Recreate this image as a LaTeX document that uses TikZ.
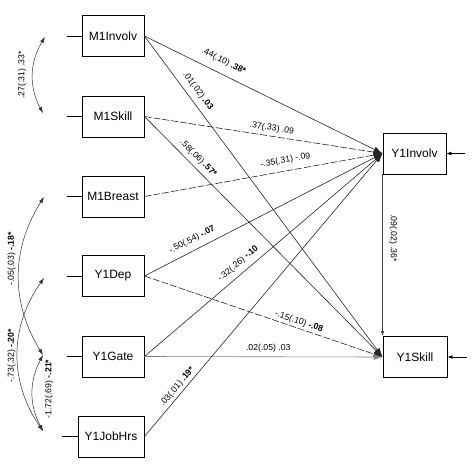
\documentclass[tikz,border=0pt]{standalone}
\usepackage{fontspec}
\setmainfont{Liberation Sans}
\usetikzlibrary{positioning}
\usetikzlibrary{arrows.meta}

\begin{document}
\begin{tikzpicture}[x=1pt,y=-1pt,
    var/.style={draw, line width=0.9pt, minimum width=62pt, minimum height=41pt, inner sep=2pt, font=\fontsize{12}{14}\selectfont},
    effect/.style={-{Latex[length=9pt,width=6pt]}, line width=0.6pt, draw=black!85},
    dashy/.style={dash pattern=on 7pt off 2pt},
    cov/.style={{Latex[length=6pt,width=4pt]}-{Latex[length=6pt,width=4pt]}, line width=0.5pt, draw=black!80},
    err/.style={-{Latex[length=5pt,width=4pt]}, line width=0.7pt},
    lbl/.style={inner sep=1pt, font=\fontsize{8.7}{10}\selectfont}]
    % path model
    \useasboundingbox (0,0) rectangle (474,474);
    \node[var] (m1involv) at (113,36) {M1Involv};
    \node[var] (m1skill) at (113,116.5) {M1Skill};
    \node[var] (m1breast) at (113,196.5) {M1Breast};
    \node[var] (y1dep) at (113,276) {Y1Dep};
    \node[var] (y1gate) at (113,356.5) {Y1Gate};
    \node[var, minimum width=66pt] (y1jobhrs) at (111,436.5) {Y1JobHrs};
    \node[var, minimum width=63pt] (y1involv) at (414.5,153.5) {Y1Involv};
    \node[var, minimum width=64pt] (y1skill) at (415,357) {Y1Skill};

    % stubs and residuals
    \coordinate (sinv) at (67,36);
    \coordinate (sskill) at (67,116.5);
    \coordinate (sbreast) at (67,196.5);
    \coordinate (sdep) at (67,276);
    \coordinate (sgate) at (67,356.5);
    \coordinate (sjob) at (62,436.5);
    \coordinate (einv) at (465,153.5);
    \coordinate (eskill) at (467,357);
    \draw[line width=0.7pt] (sinv) -- (m1involv);
    \draw[line width=0.7pt] (sskill) -- (m1skill);
    \draw[line width=0.7pt] (sbreast) -- (m1breast);
    \draw[line width=0.7pt] (sdep) -- (y1dep);
    \draw[line width=0.7pt] (sgate) -- (y1gate);
    \draw[line width=0.7pt] (sjob) -- (y1jobhrs);
    \draw[err] (einv) -- (y1involv);
    \draw[err] (eskill) -- (y1skill);

    % direct effects
    \draw[effect] (m1involv.east) -- (y1involv.west) node[lbl, sloped, pos=0.31, above=7pt] {.44(.10) \textbf{.38*}};
    \draw[effect] (m1involv.east) -- (y1skill.west) node[lbl, sloped, pos=0.19, above=5pt] {.01(.02) \textbf{.03}};
    \draw[effect, dashy] (m1skill.east) -- (y1involv.west) node[lbl, sloped, pos=0.53, above=2.4pt] {.37(.33) .09};
    \draw[effect] (m1skill.east) -- (y1skill.west) node[lbl, sloped, pos=0.2, above=3.5pt] {.58(.06) \textbf{.57*}};
    \draw[effect, dashy] (m1breast.east) -- (y1involv.west) node[lbl, sloped, pos=0.6, above=5pt] {-.35(.31) -.09};
    \draw[effect] (y1dep.east) -- (y1involv.west) node[lbl, sloped, pos=0.22, above=5pt] {-.50(.54) \textbf{-.07}};
    \draw[effect, dashy] (y1dep.east) -- (y1skill.west) node[lbl, sloped, pos=0.64, above=1pt] {-.15(.10) \textbf{-.08}};
    \draw[effect] (y1gate.east) -- (y1involv.west) node[lbl, sloped, pos=0.42, above=4.5pt] {-.32(.26) \textbf{-.10}};
    \draw[effect, draw=black!50] (y1gate.east) -- (y1skill.west) node[lbl, sloped, pos=0.52, above=3.4pt] {.02(.05) .03};
    \draw[effect] (y1jobhrs.east) -- (y1involv.west) node[lbl, sloped, pos=0.16, above=1.5pt] {.03(.01) \textbf{.19*}};
    \draw[-{Latex[length=5pt,width=3.5pt]}, line width=0.8pt, draw=black!75] (y1involv.south west) -- (y1skill.north west);
    \node[lbl, rotate=-90] (l09) at (393,238) {.09(.02) .36*};

    % covariances
    \coordinate (cinv) at (45,37);
    \coordinate (cskill) at (43,113);
    \coordinate (cbreast) at (44,197);
    \coordinate (cdep) at (44,278);
    \coordinate (cgate) at (43,355);
    \coordinate (cjob) at (43,431);
    \draw[cov] (cskill) to[bend left=30] (cinv);
    \draw[cov] (cgate) to[bend left=32] (cbreast);
    \draw[cov] (cjob) to[bend left=35] (cdep);
    \draw[cov] (cjob) to[bend left=28] (cgate);
    \node[lbl, rotate=90] (l27) at (22,75) {.27(.31) .33*};
    \node[lbl, rotate=90] (l05) at (11.5,259) {-.05(.03) \textbf{-.18*}};
    \node[lbl, rotate=90] (l73) at (11.5,356) {-.73(.32) \textbf{-.20*}};
    \node[lbl, rotate=90] (l172) at (49,389) {-1.72(.69) \textbf{-.21*}};
\end{tikzpicture}
\end{document}
